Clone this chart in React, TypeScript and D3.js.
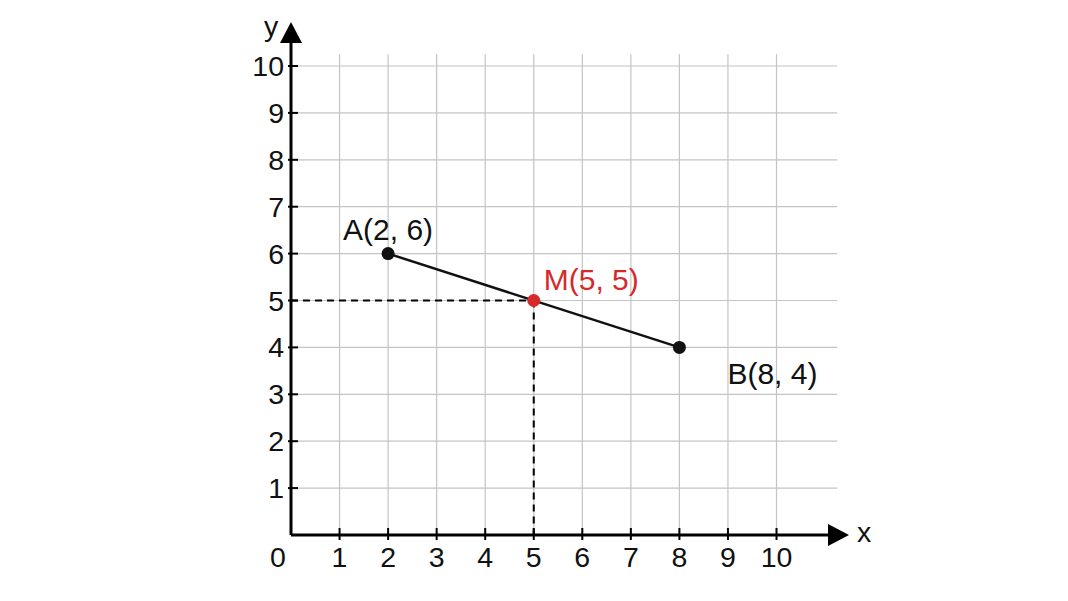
import React from 'react';
import * as d3 from 'd3';

const xTicks = [1, 2, 3, 4, 5, 6, 7, 8, 9, 10];
const yTicks = [1, 2, 3, 4, 5, 6, 7, 8, 9, 10];

interface Pt {
  name: string;
  x: number;
  y: number;
  color: string;
}

const points: Pt[] = [
  { name: 'A', x: 2, y: 6, color: '#111' },
  { name: 'B', x: 8, y: 4, color: '#111' },
];
const midpoint: Pt = { name: 'M', x: 5, y: 5, color: '#d62a2a' };

const width = 1068;
const height = 601;

const App: React.FC = () => {
  const x = d3.scaleLinear().domain([0, 10]).range([291, 776.5]);
  const y = d3.scaleLinear().domain([0, 10]).range([535, 66]);

  const gridXMax = 11.25;
  const gridYMax = 10.25;
  const font = '"Liberation Sans", Arial, sans-serif';

  const [a, b] = points;

  return (
    <svg
      width={width}
      height={height}
      style={{ position: 'absolute', left: 0, top: 0, background: '#fff' }}
      fontFamily={font}
    >
      {/* grid */}
      <g stroke="#c4c4c4" strokeWidth={1.2}>
        {xTicks.map((t) => (
          <line key={`gx${t}`} x1={x(t)} x2={x(t)} y1={y(0)} y2={y(gridYMax)} />
        ))}
        {yTicks.map((t) => (
          <line key={`gy${t}`} x1={x(0)} x2={x(gridXMax)} y1={y(t)} y2={y(t)} />
        ))}
      </g>

      {/* dashed projections of M */}
      <g stroke="#000" strokeWidth={2} strokeDasharray="7,5" fill="none">
        <line x1={x(0)} x2={x(midpoint.x)} y1={y(midpoint.y)} y2={y(midpoint.y)} />
        <line x1={x(midpoint.x)} x2={x(midpoint.x)} y1={y(midpoint.y)} y2={y(0)} />
      </g>

      {/* axes */}
      <g stroke="#000" strokeWidth={3}>
        <line x1={x(0)} x2={828} y1={y(0)} y2={y(0)} />
        <line x1={x(0)} x2={x(0)} y1={y(0)} y2={43} />
      </g>
      <path d={`M${828},${y(0) - 11} L${849},${y(0)} L${828},${y(0) + 11} Z`} fill="#000" />
      <path d={`M${x(0) - 11},${43} L${x(0)},${22} L${x(0) + 11},${43} Z`} fill="#000" />

      {/* ticks */}
      <g stroke="#000" strokeWidth={2}>
        {xTicks.map((t) => (
          <line key={`tx${t}`} x1={x(t)} x2={x(t)} y1={y(0) - 7} y2={y(0) + 5} />
        ))}
        {yTicks.map((t) => (
          <line key={`ty${t}`} x1={x(0) - 3} x2={x(0) + 7} y1={y(t)} y2={y(t)} />
        ))}
      </g>

      {/* tick labels */}
      <g fontSize={28.5} fill="#111">
        {xTicks.map((t) => (
          <text key={`lx${t}`} x={x(t)} y={567} textAnchor="middle">
            {t}
          </text>
        ))}
        {yTicks.map((t) => (
          <text key={`ly${t}`} x={x(0) - 7} y={y(t) + 10} textAnchor="end">
            {t}
          </text>
        ))}
        <text x={278} y={567} textAnchor="middle">0</text>
        <text x={857} y={542}>x</text>
        <text x={264} y={36}>y</text>
      </g>

      {/* segment AB */}
      <line x1={x(a.x)} y1={y(a.y)} x2={x(b.x)} y2={y(b.y)} stroke="#111" strokeWidth={2.5} />

      {[a, b, midpoint].map((p) => (
        <circle key={p.name} cx={x(p.x)} cy={y(p.y)} r={6.5} fill={p.color} />
      ))}

      {/* point labels */}
      <g fontSize={30}>
        <text x={x(a.x)} y={y(a.y) - 14} textAnchor="middle" fill={a.color}>
          {`${a.name}(${a.x}, ${a.y})`}
        </text>
        <text x={x(midpoint.x) + 10} y={y(midpoint.y) - 11} fill={midpoint.color}>
          {`${midpoint.name}(${midpoint.x}, ${midpoint.y})`}
        </text>
        <text x={x(b.x) + 48} y={y(b.y) + 37} fill={b.color}>
          {`${b.name}(${b.x}, ${b.y})`}
        </text>
      </g>
    </svg>
  );
};

export default App;
